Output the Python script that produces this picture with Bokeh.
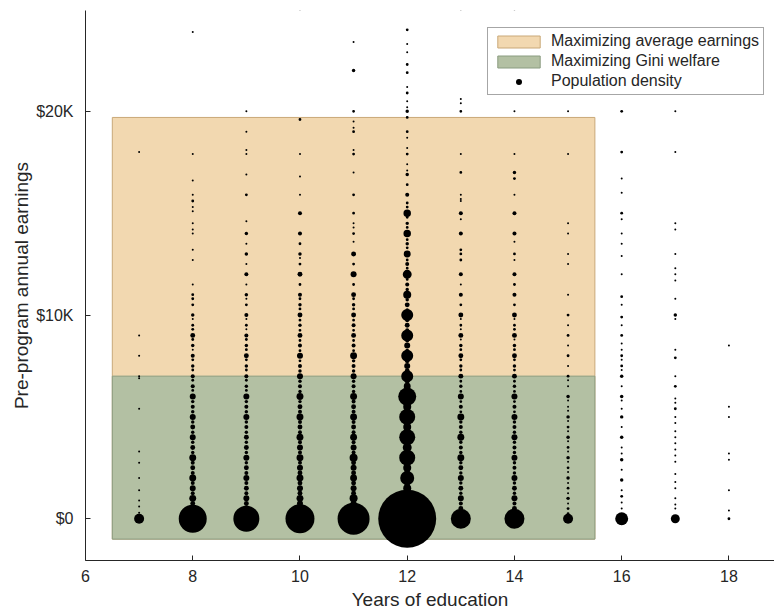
import numpy as np
from bokeh.plotting import figure
from bokeh.models import (ColumnDataSource, FixedTicker, Legend, LegendItem,
                          Range1d)
from bokeh.embed import file_html
from bokeh.resources import INLINE

# Population density by years of education: (pre-program earnings in $, count)
col_07 = [(0, 25), (300, 1), (600, 1), (900, 1), (1400, 1), (2000, 1), (2750, 1),
          (3300, 1), (5400, 1), (6900, 1), (7000, 1), (8000, 1), (9000, 1), (18000, 1)]

col_08 = [(0, 196), (250, 6), (500, 9), (750, 6), (1000, 12), (1250, 4), (1500, 9),
          (1750, 4), (2000, 12), (2250, 4), (2500, 6), (2750, 4), (3000, 12), (3250, 3),
          (3500, 6), (3750, 3), (4000, 9), (4250, 3), (4500, 6), (4750, 3), (5000, 9),
          (5250, 3), (5500, 4), (5750, 3), (6000, 9), (6300, 2), (6500, 4), (6800, 2),
          (7000, 4), (7300, 2), (7500, 3), (7800, 2), (8000, 4), (8300, 1), (8500, 3),
          (8800, 2), (9000, 6), (9300, 2), (9500, 2), (9800, 1), (10000, 3), (10500, 2),
          (10800, 2), (11000, 2), (11500, 1), (12700, 1), (13200, 1), (14000, 1),
          (14200, 1), (14500, 1), (15100, 1), (15300, 1), (15600, 2), (15900, 1),
          (16600, 1), (17900, 1), (23900, 1)]

col_09 = [(0, 169), (250, 6), (500, 9), (750, 6), (1000, 9), (1250, 4), (1500, 6),
          (1750, 4), (2000, 9), (2250, 4), (2500, 6), (2750, 3), (3000, 9), (3250, 3),
          (3500, 6), (3750, 3), (4000, 6), (4250, 3), (4500, 4), (4750, 3), (5000, 9),
          (5250, 3), (5500, 4), (5750, 3), (6000, 9), (6300, 2), (6500, 3), (6800, 2),
          (7000, 4), (7300, 2), (7500, 3), (7800, 2), (8000, 6), (8300, 2), (8500, 3),
          (8800, 2), (9000, 4), (9300, 1), (9500, 2), (9800, 1), (10000, 4), (10500, 2),
          (10800, 1), (11000, 3), (11500, 1), (12000, 4), (12500, 1), (13000, 3),
          (13500, 1), (14000, 3), (14600, 1), (15900, 2), (16900, 1), (17900, 1),
          (18100, 1), (19000, 1), (20000, 1)]

col_10 = [(0, 210), (250, 9), (500, 12), (750, 9), (1000, 12), (1250, 6), (1500, 9),
          (1750, 6), (2000, 12), (2250, 6), (2500, 9), (2750, 4), (3000, 12), (3250, 4),
          (3500, 9), (3750, 4), (4000, 12), (4250, 4), (4500, 6), (4750, 4), (5000, 12),
          (5250, 4), (5500, 6), (5750, 3), (6000, 12), (6250, 3), (6500, 4), (6750, 3),
          (7000, 9), (7250, 3), (7500, 4), (7750, 2), (8000, 9), (8250, 2), (8500, 4),
          (8750, 2), (9000, 6), (9250, 2), (9500, 3), (9750, 2), (10000, 6), (10300, 2),
          (10500, 3), (10800, 2), (11000, 4), (11500, 2), (12000, 6), (12500, 2),
          (12800, 1), (13000, 3), (13500, 2), (14000, 4), (15000, 4), (15900, 1),
          (16800, 1), (17900, 1), (19600, 2), (25000, 1)]

col_11 = [(0, 256), (250, 9), (500, 12), (750, 9), (1000, 16), (1250, 6), (1500, 9),
          (1750, 6), (2000, 12), (2250, 6), (2500, 9), (2750, 6), (3000, 16), (3250, 4),
          (3500, 9), (3750, 4), (4000, 12), (4250, 4), (4500, 6), (4750, 4), (5000, 12),
          (5250, 4), (5500, 6), (5750, 4), (6000, 12), (6250, 3), (6500, 4), (6750, 3),
          (7000, 9), (7250, 3), (7500, 4), (7750, 3), (8000, 12), (8250, 2), (8500, 4),
          (8750, 2), (9000, 6), (9250, 2), (9500, 4), (9750, 2), (10000, 6), (10300, 2),
          (10500, 3), (10800, 2), (11000, 6), (11500, 2), (12000, 9), (12500, 2),
          (13000, 6), (13600, 1), (14000, 2), (14300, 1), (14500, 1), (15000, 2),
          (15900, 2), (17000, 1), (17900, 2), (18100, 1), (19000, 2), (19200, 1),
          (19500, 1), (20000, 2), (22000, 3), (23400, 1)]

col_12 = [(0, 840), (250, 16), (500, 20), (750, 12), (1000, 25), (1250, 9), (1500, 16),
          (1750, 9), (2000, 49), (2250, 9), (2500, 16), (2750, 9), (3000, 64), (3250, 9),
          (3500, 20), (3750, 9), (4000, 64), (4250, 9), (4500, 16), (4750, 9), (5000, 64),
          (5250, 9), (5500, 16), (5750, 9), (6000, 81), (6250, 9), (6500, 12), (6750, 6),
          (7000, 36), (7250, 6), (7500, 9), (7750, 6), (8000, 36), (8250, 4), (8500, 9),
          (8750, 4), (9000, 36), (9250, 4), (9500, 6), (9750, 4), (10000, 36), (10250, 3),
          (10500, 6), (10750, 3), (11000, 16), (11250, 3), (11500, 4), (11750, 2),
          (12000, 20), (12300, 2), (12500, 4), (12700, 2), (13000, 12), (13300, 2),
          (13500, 3), (13700, 2), (14000, 14), (14300, 2), (14500, 3), (14800, 2),
          (15000, 14), (15300, 2), (15500, 2), (15900, 4), (16400, 2), (16900, 3),
          (17100, 1), (17400, 1), (17900, 2), (18200, 1), (18700, 1), (19000, 2),
          (19700, 2), (20000, 3), (20200, 1), (20500, 1), (20900, 2), (21200, 1),
          (21900, 2), (22300, 2), (22900, 1), (23300, 1), (24000, 2)]

col_13 = [(0, 100), (250, 4), (500, 6), (750, 4), (1000, 9), (1250, 3), (1500, 6),
          (1750, 3), (2000, 9), (2250, 3), (2500, 6), (2750, 3), (3000, 12), (3250, 3),
          (3500, 4), (3750, 3), (4000, 12), (4250, 3), (4500, 4), (4750, 3), (5000, 12),
          (5250, 2), (5500, 4), (5750, 2), (6000, 9), (6250, 2), (6500, 3), (6750, 2),
          (7000, 6), (7300, 2), (7500, 3), (7800, 2), (8000, 6), (8300, 2), (8500, 3),
          (8800, 1), (9000, 6), (9300, 1), (9500, 2), (9800, 1), (10000, 6), (10500, 2),
          (11000, 4), (11500, 1), (12000, 4), (12700, 2), (13000, 2), (13200, 2),
          (14000, 4), (14700, 1), (15000, 4), (15600, 1), (15700, 1), (15900, 1),
          (17000, 2), (17900, 1), (20000, 2), (20400, 1), (20600, 1), (25000, 1)]

col_14 = [(0, 100), (250, 4), (500, 6), (750, 4), (1000, 9), (1250, 3), (1500, 6),
          (1750, 3), (2000, 9), (2250, 3), (2500, 4), (2750, 3), (3000, 9), (3250, 3),
          (3500, 4), (3750, 3), (4000, 9), (4250, 3), (4500, 4), (4750, 3), (5000, 9),
          (5250, 2), (5500, 4), (5750, 2), (6000, 9), (6250, 2), (6500, 3), (6750, 2),
          (7000, 6), (7300, 2), (7500, 3), (7800, 2), (8000, 6), (8300, 2), (8500, 3),
          (8800, 1), (9000, 6), (9300, 2), (9500, 2), (9800, 1), (10000, 6), (10500, 2),
          (11000, 4), (11500, 2), (12000, 4), (12700, 1), (13000, 2), (13600, 1),
          (14000, 4), (15000, 4), (15900, 1), (16700, 2), (17000, 3), (17900, 1),
          (20000, 1), (25000, 1)]

col_15 = [(0, 25), (250, 2), (500, 2), (750, 1), (1000, 3), (1250, 1), (1500, 2),
          (1750, 1), (2000, 3), (2300, 1), (2500, 2), (2800, 1), (3000, 3), (3300, 1),
          (3500, 2), (3800, 1), (4000, 3), (4300, 1), (4500, 2), (4800, 1), (5000, 3),
          (5300, 1), (5500, 1), (5800, 1), (6000, 3), (6500, 1), (6800, 1), (7000, 2),
          (7500, 1), (8000, 2), (8500, 1), (9000, 2), (9500, 1), (10000, 2), (11000, 1),
          (12500, 1), (13000, 1), (14000, 1), (14500, 1), (17900, 1), (20000, 1)]

col_16 = [(0, 42), (500, 1), (800, 1), (1100, 2), (1400, 1), (1900, 3), (2400, 1),
          (2900, 3), (3200, 1), (3500, 1), (4000, 3), (4500, 1), (5000, 3), (5400, 1),
          (5800, 1), (6000, 3), (6500, 1), (7000, 3), (7300, 1), (7500, 2), (7800, 1),
          (8000, 2), (8300, 1), (8600, 1), (9000, 2), (9500, 1), (9900, 2), (10500, 1),
          (10900, 2), (12000, 1), (12900, 1), (13500, 1), (14000, 1), (14700, 1),
          (15000, 2), (16000, 1), (16700, 1), (18000, 2), (20000, 2)]

col_17 = [(0, 20), (500, 1), (700, 1), (1000, 1), (1500, 1), (1800, 1), (2200, 1),
          (2800, 1), (3100, 1), (3400, 1), (3700, 1), (4000, 1), (4300, 1), (4700, 1),
          (5000, 1), (5400, 2), (5700, 1), (5900, 1), (6500, 2), (7000, 1), (7900, 2),
          (8300, 1), (9800, 1), (10000, 3), (10800, 1), (11700, 1), (12000, 1),
          (12300, 1), (13000, 1), (14200, 1), (14500, 1), (18000, 1), (20000, 1)]

col_18 = [(0, 2), (400, 1), (1400, 1), (2900, 1), (3200, 1), (5000, 1), (5500, 1),
          (8500, 1)]

education_years = [7, 8, 9, 10, 11, 12, 13, 14, 15, 16, 17, 18]
columns = [col_07, col_08, col_09, col_10, col_11, col_12, col_13, col_14,
           col_15, col_16, col_17, col_18]

# Targeting regions: education and earnings cut-offs for each policy
region_labels = ["Maximizing average earnings", "Maximizing Gini welfare"]
region_edu_min = [6.5, 6.5]
region_edu_max = [15.5, 15.5]
region_earn_min = [-1000, -1000]
region_earn_max = [19700, 7000]

x_ticks = [6, 8, 10, 12, 14, 16, 18]
y_ticks = [0, 10000, 20000]
y_tick_labels = ["$0", "$10K", "$20K"]

# Flatten the per-year columns into one table for the scatter glyph
xs, ys, dens = [], [], []
for yr, col in zip(education_years, columns):
    for earn, n in col:
        xs.append(yr)
        ys.append(earn)
        dens.append(n)
dens = np.array(dens, dtype=float)
# marker area proportional to population count
src = ColumnDataSource(dict(x=xs, y=ys, n=dens, size=2.0 * np.sqrt(dens)))

FONT = "Liberation Sans"
INK = "#262626"

p = figure(width=774, height=613,
           x_range=Range1d(6, 18.85), y_range=Range1d(-2050, 24950),
           output_backend="svg", toolbar_location=None,
           min_border_left=85, min_border_right=0,
           min_border_top=10, min_border_bottom=53)
p.xgrid.visible = False
p.ygrid.visible = False
p.outline_line_color = None
p.background_fill_color = "white"
p.border_fill_color = "white"

fills = ["#F2D8B0", "#B3C0A3"]
edges = ["#C9A878", "#8A9C80"]
region_renderers = []
for i in range(len(region_labels)):
    r = p.quad(left=[region_edu_min[i]], right=[region_edu_max[i]],
               bottom=[region_earn_min[i]], top=[region_earn_max[i]],
               fill_color=fills[i], line_color=edges[i], line_width=1)
    region_renderers.append(r)

p.scatter("x", "y", size="size", source=src, marker="circle",
          fill_color="black", line_color=None)

# legend swatch for the density markers
dot = p.scatter(x=[np.nan], y=[np.nan], size=11, marker="circle",
                fill_color="black", line_color=None)

legend = Legend(items=[LegendItem(label=region_labels[0], renderers=[region_renderers[0]]),
                       LegendItem(label=region_labels[1], renderers=[region_renderers[1]]),
                       LegendItem(label="Population density", renderers=[dot])],
                location=(402, 465))
legend.label_text_font = FONT
legend.label_text_font_size = "16px"
legend.label_text_color = INK
legend.glyph_width = 53
legend.glyph_height = 15
legend.label_height = 17
legend.spacing = 2
legend.padding = 4
legend.margin = 0
legend.label_standoff = 6
legend.border_line_color = "#4d4d4d"
legend.border_line_width = 1
legend.background_fill_color = "white"
legend.background_fill_alpha = 1.0
p.add_layout(legend, "center")

for ax in (p.xaxis[0], p.yaxis[0]):
    ax.axis_line_color = INK
    ax.major_tick_line_color = INK
    ax.major_tick_in = 5
    ax.major_tick_out = 0
    ax.minor_tick_line_color = None
    ax.major_label_text_font = FONT
    ax.major_label_text_font_size = "16px"
    ax.major_label_text_color = INK
    ax.axis_label_text_font = FONT
    ax.axis_label_text_font_size = "19px"
    ax.axis_label_text_font_style = "normal"
    ax.axis_label_text_color = INK

p.xaxis.ticker = FixedTicker(ticks=x_ticks)
p.yaxis.ticker = FixedTicker(ticks=y_ticks)
p.yaxis.major_label_overrides = dict(zip(y_ticks, y_tick_labels))
p.xaxis.axis_label = "Years of education"
p.yaxis.axis_label = "Pre-program annual earnings"
p.xaxis.major_label_standoff = 9
p.yaxis.major_label_standoff = 12
p.xaxis.axis_label_standoff = 4
p.yaxis.axis_label_standoff = 1

open("out.html", "w").write(file_html(p, INLINE))
